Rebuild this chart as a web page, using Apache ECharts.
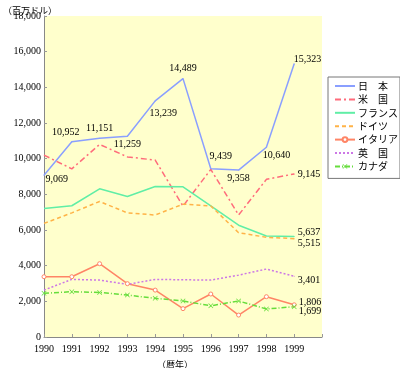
<!DOCTYPE html>
<html><head><meta charset="utf-8">
<script src="https://cdn.jsdelivr.net/npm/echarts@6/dist/echarts.min.js"></script>
<style>html,body{margin:0;padding:0;background:#fff}#c{width:400px;height:368px}</style>
</head><body><div id="c"></div>
<script>
const years = ['1990','1991','1992','1993','1994','1995','1996','1997','1998','1999'];
const yTicks = [0,2000,4000,6000,8000,10000,12000,14000,16000,18000];
const japan   = [9069,10952,11151,11259,13239,14489,9439,9358,10640,15323];
const usa     = [10200,9430,10800,10100,9920,7340,9400,6840,8840,9145];
const france  = [7210,7360,8310,7880,8440,8420,7350,6270,5660,5637];
const germany = [6370,6960,7600,6960,6840,7450,7350,5850,5590,5515];
const italy   = [3380,3380,4110,2990,2630,1590,2410,1230,2260,1806];
const uk      = [2630,3230,3190,2950,3230,3210,3190,3470,3810,3401];
const canada  = [2450,2540,2500,2350,2170,2020,1750,2020,1570,1699];
const names = ['日　本','米　国','フランス','ドイツ','イタリア','英　国','カナダ'];

const fmt = v => v.toLocaleString('en-US');
const serif = '"Liberation Serif","DejaVu Serif",serif';
const cjk = '"Noto Sans CJK JP","Noto Sans CJK SC",sans-serif';

// label placements (style only)
const japanLbl = [
  ['right',[-4,4]],['top',[-6,1]],['top',[0,1]],['bottom',[0,-2]],['bottom',[8,2]],
  ['top',[0,0]],['top',[10,-2]],['bottom',[0,-2]],['bottom',[10,-2]],['right',[-6,-4]]
];
function mk(vals, lblFor, keepSymbol){
  return vals.map((v,i)=>{
    const l = lblFor(i);
    if(!l) return v;
    const item = {value:v,
      label:{show:true, position:l[0], offset:l[1], formatter:fmt(v),
        color:'#000', fontFamily:serif, fontSize:10}};
    if(!keepSymbol){ item.symbol='circle'; item.symbolSize=1; }
    return item;
  });
}
const lastOnly = off => i => i===years.length-1 ? ['right',off] : null;

const xCats = years.concat(['']);
const crossPath = 'path://M0,1L1,0L5,4L9,0L10,1L6,5L10,9L9,10L5,6L1,10L0,9L4,5Z';

const cfg = [
  {name:names[0], data:mk(japan,i=>japanLbl[i]), color:'#8a9fff', type:'solid', symbol:'none'},
  {name:names[1], data:mk(usa,lastOnly([-2,0])), color:'#ff6b7b', type:[6,3,2,3], symbol:'none'},
  {name:names[2], data:mk(france,lastOnly([-2,-4])), color:'#60eea6', type:'solid', symbol:'none'},
  {name:names[3], data:mk(germany,lastOnly([-2,5])), color:'#ffb347', type:[4,3], symbol:'none'},
  {name:names[4], data:mk(italy,lastOnly([-3,-2]),true), color:'#ff8566', type:'solid', symbol:'circle', size:4, hollow:true},
  {name:names[5], data:mk(uk,lastOnly([-2,4])), color:'#cc77e6', type:[2,2], symbol:'none'},
  {name:names[6], data:mk(canada,lastOnly([-3,5]),true), color:'#66dd3c', type:[5,2,1,2], symbol:crossPath, size:5},
];

const series = cfg.map(c=>({
  name:c.name, type:'line', data:c.data, symbol:c.symbol, symbolSize:c.size||1,
  showSymbol:true, animation:false, silent:true,
  lineStyle:{color:c.color, width:1.5, type:c.type},
  itemStyle: c.hollow ? {color:'#fff', borderColor:c.color, borderWidth:1} : {color:c.color, borderWidth:0}
}));

const legendData = cfg.map(c=>c.symbol==='none'
  ? {name:c.name, itemStyle:{opacity:0}}
  : {name:c.name});

const chart = echarts.init(document.getElementById('c'), null, {renderer:'canvas'});
chart.setOption({
  animation:false,
  color: cfg.map(c=>c.color),
  grid:{left:44, right:78, top:16, bottom:31, show:true, backgroundColor:'#ffffcc', borderWidth:0},
  title:[
    {text:'（百万ドル）', left:-2, top:1, textStyle:{fontFamily:cjk, fontSize:9, fontWeight:'normal', color:'#000'}},
    {text:'（暦年）', left:152, top:355, textStyle:{fontFamily:cjk, fontSize:9, fontWeight:'normal', color:'#000'}}
  ],
  legend:{
    orient:'vertical', left:328, top:77, width:70,
    padding:[4,2,7,6], itemWidth:20, itemHeight:6, itemGap:3.4,
    borderColor:'#777', borderWidth:1, backgroundColor:'#fff',
    textStyle:{fontFamily:cjk, fontSize:10, lineHeight:10, color:'#000', padding:[0,0,0,-2]},
    data:legendData
  },
  xAxis:{
    type:'category', data:xCats, boundaryGap:false,
    axisLine:{lineStyle:{color:'#888', width:1}},
    axisTick:{inside:true, length:3, lineStyle:{color:'#999'}},
    axisLabel:{fontFamily:serif, fontSize:10, color:'#000', margin:7, interval:0},
    splitLine:{show:false}
  },
  yAxis:{
    type:'value', min:yTicks[0], max:yTicks[yTicks.length-1], interval:yTicks[1]-yTicks[0],
    axisLine:{show:true, lineStyle:{color:'#888', width:1}},
    axisTick:{show:true, inside:true, length:3, lineStyle:{color:'#999'}},
    axisLabel:{fontFamily:serif, fontSize:10, color:'#000', margin:3, formatter:v=>fmt(v)},
    splitLine:{show:false}
  },
  series
});
</script>
</body></html>
